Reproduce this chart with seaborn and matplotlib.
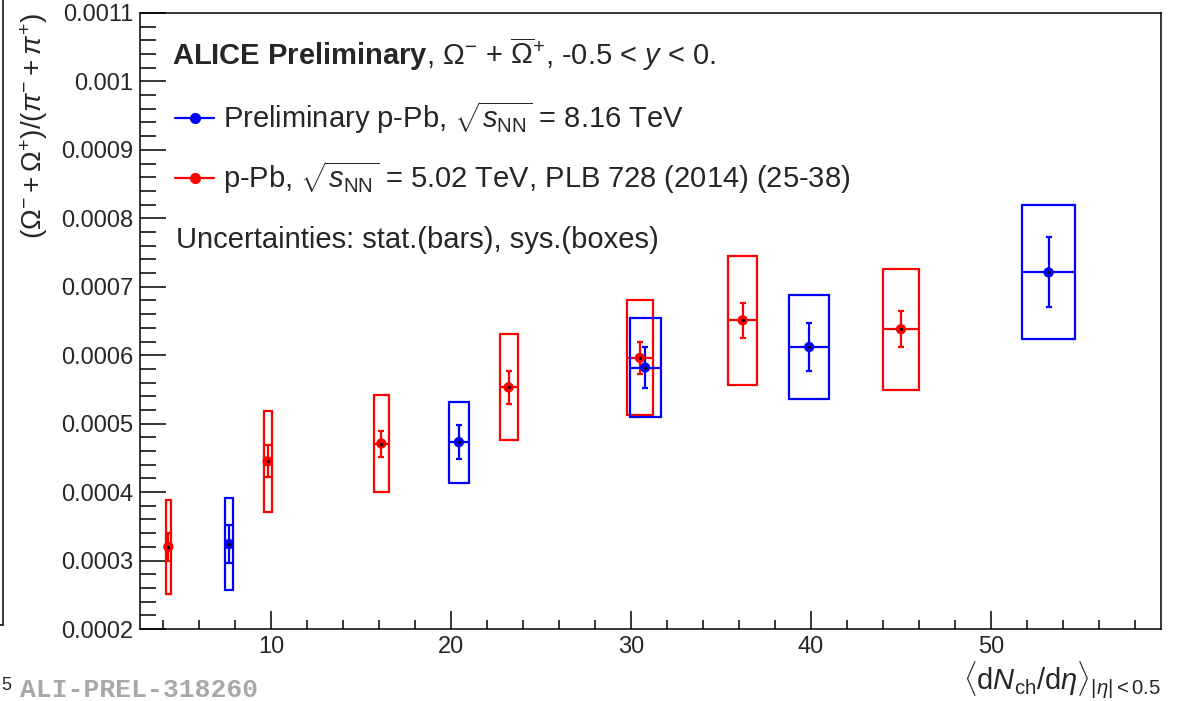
import numpy as np
import pandas as pd
import matplotlib
matplotlib.use("Agg")
import matplotlib.pyplot as plt
import seaborn as sns
from matplotlib.patches import Rectangle
from matplotlib.lines import Line2D
from matplotlib.ticker import MultipleLocator, FuncFormatter

# preliminary p-Pb, 8.16 TeV
x_816 = [7.67, 20.44, 30.78, 39.9, 53.2]
xw_816 = [0.2, 0.56, 0.86, 1.12, 1.49]
y_816 = [0.000324, 0.000473, 0.000582, 0.000612, 0.000721]
stat_816 = [0.000028, 0.0000245, 0.0000305, 0.000035, 0.000051]
sys_816 = [0.0000675, 0.000059, 0.0000725, 0.000076, 0.000098]

# p-Pb, 5.02 TeV, PLB 728 (2014)
x_502 = [4.3, 9.81, 16.13, 23.2, 30.5, 36.2, 45.0]
xw_502 = [0.14, 0.22, 0.41, 0.5, 0.7, 0.8, 1.0]
y_502 = [0.000320, 0.000445, 0.000471, 0.000553, 0.000596, 0.000651, 0.000638]
stat_502 = [0.00002, 0.0000235, 0.000019, 0.000024, 0.000023, 0.000026, 0.000026]
sys_502 = [0.000069, 0.0000735, 0.0000705, 0.0000775, 0.000084, 0.0000945, 0.0000885]

label_816 = r"Preliminary p-Pb, $\sqrt{s_{\mathrm{NN}}}$ = 8.16 TeV"
label_502 = r"p-Pb, $\sqrt{s_{\mathrm{NN}}}$ = 5.02 TeV, PLB 728 (2014) (25-38)"

sns.set_theme(style="ticks")
plt.rcParams["font.family"] = ["Liberation Sans", "DejaVu Sans"]
plt.rcParams["mathtext.fontset"] = "custom"
plt.rcParams["mathtext.rm"] = "Liberation Sans"
plt.rcParams["mathtext.it"] = "Liberation Sans:italic"
plt.rcParams["mathtext.bf"] = "Liberation Sans:bold"
plt.rcParams["axes.edgecolor"] = "black"
plt.rcParams["axes.linewidth"] = 1.1

fig = plt.figure(figsize=(11.88, 7.01), dpi=100)
ax = fig.add_axes([0.1178, 0.1027, 0.8594, 0.8788])


def draw_set(x, xw, y, stat, sys_, color):
    for xi, wi, yi, si in zip(x, xw, y, sys_):
        ax.add_patch(Rectangle((xi - wi, yi - si), 2 * wi, 2 * si,
                               fill=False, ec=color, lw=1.6, zorder=2))
    ax.errorbar(x, y, xerr=xw, fmt="none", ecolor=color, elinewidth=1.6,
                capsize=0, zorder=2)
    ax.errorbar(x, y, yerr=stat, fmt="none", ecolor=color, elinewidth=1.6,
                capsize=2.2, capthick=1.6, zorder=2)


draw_set(x_502, xw_502, y_502, stat_502, sys_502, "red")
draw_set(x_816, xw_816, y_816, stat_816, sys_816, "blue")

df = pd.DataFrame({
    "dNdeta": x_502 + x_816,
    "ratio": y_502 + y_816,
    "data": ["5.02"] * len(x_502) + ["8.16"] * len(x_816),
})
sns.scatterplot(data=df, x="dNdeta", y="ratio", hue="data",
                palette={"5.02": "red", "8.16": "blue"}, s=55,
                edgecolor="none", legend=False, ax=ax, zorder=3)
ax.scatter(df.dNdeta, df.ratio, s=1.5, c="black", zorder=4)

ax.set_xlim(2.72, 59.44)
ax.set_ylim(0.0002, 0.0011)
ax.xaxis.set_major_locator(MultipleLocator(10))
ax.xaxis.set_minor_locator(MultipleLocator(2))
ax.yaxis.set_major_locator(MultipleLocator(0.0001))
ax.yaxis.set_minor_locator(MultipleLocator(0.00002))
ax.yaxis.set_major_formatter(FuncFormatter(lambda v, p: f"{v:g}"))
ax.tick_params(which="both", direction="in", top=False, right=False, color="black")
ax.tick_params(axis="y", which="major", length=18.7, width=1.1, labelsize=17, pad=5)
ax.tick_params(axis="y", which="minor", length=11.5, width=1.1)
ax.tick_params(axis="x", which="major", length=13, width=1.1, labelsize=17, pad=5)
ax.tick_params(axis="x", which="minor", length=6.5, width=1.1)

ax.set_ylabel(r"$(\Omega^{-} + \Omega^{+})/(\pi^{-} + \pi^{+})$", fontsize=20, loc="top")
ax.yaxis.set_label_coords(-0.088, 1.0)
ax.set_xlabel(r"$\langle\mathrm{d}N_{\mathrm{ch}}/\mathrm{d}\eta\rangle_{|\eta|<0.5}$",
              fontsize=21, loc="right")
ax.xaxis.set_label_coords(1.0, -0.049)

ax.text(0.0313, 0.932,
        r"$\mathbf{ALICE\ Preliminary}$, $\Omega^{-}$ + $\overline{\Omega}^{+}$, -0.5 < $y$ < 0.",
        transform=ax.transAxes, fontsize=21, va="center", ha="left")
ax.text(0.0353, 0.6315, "Uncertainties: stat.(bars), sys.(boxes)",
        transform=ax.transAxes, fontsize=21, va="center", ha="left")

handles = [Line2D([], [], color="blue", marker="o", markersize=7, lw=1.6),
           Line2D([], [], color="red", marker="o", markersize=7, lw=1.6)]
ax.legend(handles, [label_816, label_502], loc="center left",
          bbox_to_anchor=(0.0343, 0.7817), frameon=False, fontsize=21,
          handlelength=1.35, handletextpad=0.3, labelspacing=0.8,
          borderaxespad=0, borderpad=0)

fig.text(20 / 1188, 1 - 690 / 701, "ALI-PREL-318260", family="Liberation Mono",
         weight="bold", color="#a8a8a8", fontsize=19, va="center")
fig.text(0.001, 1 - 685 / 701, "5", fontsize=13, va="center")
fig.add_artist(Line2D([3 / 1188, 3 / 1188], [1, 1 - 625 / 701], color="black", lw=1.1))
fig.add_artist(Line2D([0, 3 / 1188], [1 - 625 / 701, 1 - 625 / 701], color="black", lw=1.1))

fig.savefig("out.png", dpi=100)
